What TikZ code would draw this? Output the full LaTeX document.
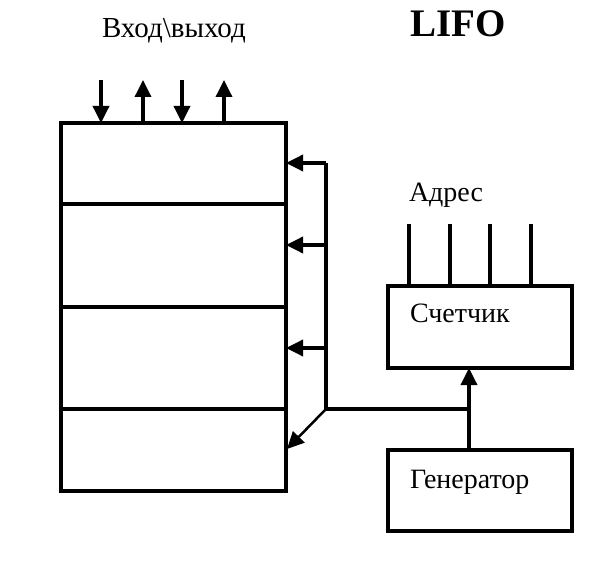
\documentclass[tikz,border=0pt]{standalone}
\usepackage{fontspec}
\setmainfont{Liberation Serif}
\usetikzlibrary{arrows.meta}
\begin{document}
\begin{tikzpicture}[x=1pt,y=-1pt,
  every node/.style={inner sep=0pt,outer sep=0pt},
  ln/.style={line width=3.5pt},
  box/.style={draw,line width=3.5pt,rectangle,minimum width=#1},
  arr/.style={line width=3.5pt,-{Triangle[length=17pt,width=16pt]}},
  lbl/.style={anchor=base west,font=\fontsize{28}{30}\selectfont},
  ttl/.style={anchor=base west,font=\fontsize{39}{42}\selectfont\bfseries}]
\useasboundingbox (0,0) rectangle (613,569);
% memory cells
\node[box=225pt,minimum height=81pt] (c1) at (173.5,163.5) {};
\node[box=225pt,minimum height=103pt] (c2) at (173.5,255.5) {};
\node[box=225pt,minimum height=102pt] (c3) at (173.5,358) {};
\node[box=225pt,minimum height=82pt] (c4) at (173.5,450) {};
% counter and generator
\node[box=184pt,minimum height=82pt] (cnt) at (480,327) {};
\node[box=184pt,minimum height=81pt] (gen) at (480,490.5) {};
% texts
\node[lbl,font=\fontsize{29}{30}\selectfont] (io) at (102,38) {Вход\textbackslash выход};
\node[ttl] (lifo) at (410,37) {LIFO};
\node[lbl] (adr) at (409,202) {Адрес};
\node[lbl] (cntl) at (410,323) {Счетчик};
\node[lbl] (genl) at (410,488) {Генератор};
% top input/output arrows
\coordinate (t1) at (101,80);
\coordinate (t2) at (143,80);
\coordinate (t3) at (182,80);
\coordinate (t4) at (224,80);
\draw[arr] (t1) -- (t1 |- c1.north);
\draw[arr] (t2 |- c1.north) -- (t2);
\draw[arr] (t3) -- (t3 |- c1.north);
\draw[arr] (t4 |- c1.north) -- (t4);
% address lines
\foreach \x/\n in {409/a1,450/a2,490/a3,531/a4}{
  \coordinate (\n) at (\x,224);
  \draw[ln] (\n) -- (\n |- cnt.north);
}
% bus
\coordinate (b1) at (326,163);
\coordinate (b2) at (326,245);
\coordinate (b3) at (326,348);
\coordinate (b4) at (326,409);
\coordinate (g) at (469,409);
\draw[ln] (b1) -- (b4) -- (g);
\draw[arr] (b1) -- (b1 -| c1.east);
\draw[arr] (b2) -- (b2 -| c2.east);
\draw[arr] (b3) -- (b3 -| c3.east);
\draw[arr,line width=2.5pt] (b4) -- (287,449);
\draw[arr] (g |- gen.north) -- (g |- cnt.south);
\end{tikzpicture}
\end{document}
